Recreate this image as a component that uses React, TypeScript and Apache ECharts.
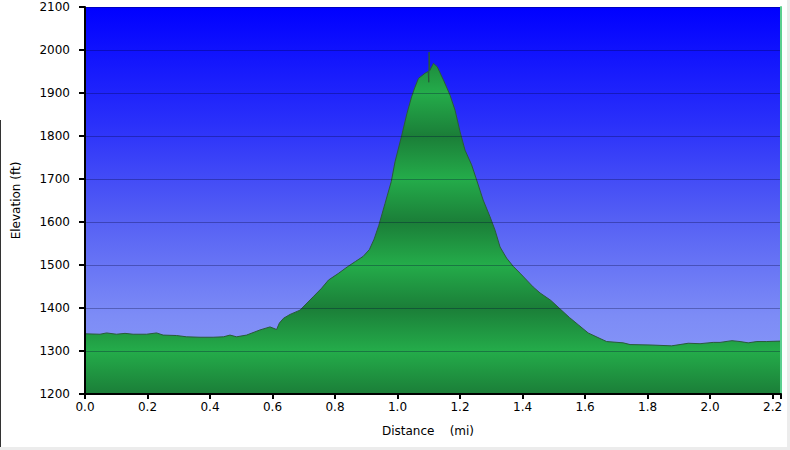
import React, { useEffect, useRef } from "react";
import * as echarts from "echarts";

const distances = [
  0, 0.048, 0.069, 0.101, 0.128, 0.154, 0.197, 0.229, 0.25, 0.293, 0.325, 0.368,
  0.41, 0.443, 0.464, 0.485, 0.517, 0.56, 0.592, 0.613, 0.622, 0.635, 0.656, 0.688,
  0.704, 0.73, 0.757, 0.779, 0.81, 0.84, 0.865, 0.89, 0.91, 0.925, 0.94, 0.96, 0.98,
  0.992, 1.013, 1.03, 1.045, 1.055, 1.067, 1.088, 1.098, 1.1, 1.101, 1.103, 1.115,
  1.127, 1.147, 1.168, 1.184, 1.2, 1.216, 1.237, 1.253, 1.274, 1.296, 1.312, 1.328,
  1.349, 1.37, 1.392, 1.434, 1.456, 1.49, 1.52, 1.55, 1.58, 1.61, 1.648, 1.669,
  1.722, 1.744, 1.808, 1.877, 1.904, 1.93, 1.968, 2.01, 2.032, 2.07, 2.096, 2.122,
  2.15, 2.18, 2.224,
];

const elevations = [
  1340, 1339, 1342, 1339, 1341, 1339, 1339, 1342, 1337, 1336, 1333, 1332,
  1332, 1333, 1337, 1333, 1337, 1349, 1356, 1350, 1365, 1376, 1385, 1395,
  1407, 1426, 1446, 1465, 1480, 1496, 1508, 1520, 1536, 1560, 1592, 1643, 1694,
  1740, 1800, 1852, 1891, 1912, 1934, 1946, 1950, 1925, 1995, 1952, 1969,
  1961, 1930, 1895, 1860, 1810, 1767, 1733, 1698, 1651, 1612, 1581, 1542,
  1516, 1497, 1481, 1449, 1435, 1418, 1398, 1378, 1360, 1342, 1329, 1322,
  1319, 1315, 1314, 1312, 1315, 1318, 1317, 1320, 1320, 1324, 1322, 1319,
  1322, 1322, 1323,
];

const yMin = 1200;
const yMax = 2100;
const yStep = 100;
const xMin = 0;
const xMax = 2.227;
const xStep = 0.2;

const FONT = "DejaVu Sans";
const GREEN_LIGHT = "#24ac4a";
const GREEN_DARK = "#1b7e38";

export default function App() {
  const ref = useRef<HTMLDivElement>(null);

  useEffect(() => {
    if (!ref.current) return;
    const chart = echarts.init(ref.current, null, { renderer: "svg" });
    const data = distances.map((d, i) => [d, elevations[i]]);

    const option: any = {
      animation: false,
      backgroundColor: "#ffffff",
      grid: {
        left: 85,
        right: 9,
        top: 7,
        bottom: 56,
        show: true,
        borderWidth: 0,
        backgroundColor: new echarts.graphic.LinearGradient(0, 0, 0, 1, [
          { offset: 0, color: "#0000ff" },
          { offset: 0.3, color: "#2a30fa" },
          { offset: 0.55, color: "#5560f4" },
          { offset: 0.8, color: "#7d8cf6" },
          { offset: 1, color: "#8c9cf8" },
        ]),
      },
      xAxis: {
        type: "value",
        min: xMin,
        max: xMax,
        interval: xStep,
        name: "Distance    (mi)",
        nameLocation: "middle",
        nameGap: 31,
        nameTextStyle: { fontFamily: FONT, fontSize: 12, color: "#000", padding: [0, 10, 0, 0] },
        axisLine: { show: true, lineStyle: { color: "#000", width: 2 } },
        axisTick: { show: true, length: 5, lineStyle: { color: "#000", width: 2 } },
        axisLabel: {
          fontFamily: FONT,
          fontSize: 12,
          color: "#000",
          margin: 7,
          formatter: (v: number) =>
            Math.abs(v / xStep - Math.round(v / xStep)) < 1e-6 ? v.toFixed(1) : "",
        },
        splitLine: { show: false },
        z: 3,
      },
      yAxis: [
        {
          type: "value",
          min: yMin,
          max: yMax,
          interval: yStep,
          name: "Elevation (ft)",
          nameLocation: "middle",
          nameGap: 63,
          nameTextStyle: { fontFamily: FONT, fontSize: 12, color: "#000" },
          axisLine: { show: true, lineStyle: { color: "#000", width: 2 } },
          axisTick: { show: true, length: 6, lineStyle: { color: "#000", width: 2 } },
          axisLabel: {
            fontFamily: FONT,
            fontSize: 12,
            color: "#000",
            margin: 15,
            formatter: (v: number) => String(Math.round(v)),
          },
          splitLine: { show: true, lineStyle: { color: "rgba(0,0,50,0.3)", width: 1 } },
          z: 3,
        },
        {
          type: "value",
          min: yMin,
          max: yMax,
          interval: yStep,
          position: "right",
          axisLine: { show: true, lineStyle: { color: "#5ccf8f", width: 2 } },
          axisTick: { show: false },
          axisLabel: { show: false },
          splitLine: { show: false },
          z: 3,
        },
      ],
      series: [
        {
          type: "line",
          data,
          symbol: "none",
          showSymbol: false,
          lineStyle: { color: "#2a5a3a", width: 1 },
          areaStyle: { color: GREEN_LIGHT, opacity: 1 },
          z: 2,
        },
      ],
      graphic: [
        { type: "line", shape: { x1: 0.5, y1: 120, x2: 0.5, y2: 450 }, style: { stroke: "#333", lineWidth: 1 } },
        { type: "rect", shape: { x: 787, y: 0, width: 3, height: 450 }, style: { fill: "#ececec" } },
        { type: "rect", shape: { x: 0, y: 447, width: 790, height: 3 }, style: { fill: "#ececec" } },
      ],
    };

    chart.setOption(option);

    const yTop = chart.convertToPixel({ yAxisIndex: 0 }, yMax) as number;
    const yBot = chart.convertToPixel({ yAxisIndex: 0 }, yMin) as number;
    const bands = Math.round((yMax - yMin) / yStep);
    const stops = [];
    for (let i = 0; i <= bands; i++) {
      const v = yMax - i * yStep;
      const odd = Math.round(v / yStep) % 2 === 1;
      stops.push({ offset: i / bands, color: odd ? GREEN_LIGHT : GREEN_DARK });
    }
    chart.setOption({
      series: [
        {
          areaStyle: {
            color: new echarts.graphic.LinearGradient(0, yTop, 0, yBot, stops, true),
            opacity: 1,
          },
        },
      ],
    });

    return () => chart.dispose();
  }, []);

  return (
    <div
      ref={ref}
      style={{ position: "fixed", left: 0, top: 0, width: 790, height: 450, background: "#fff" }}
    />
  );
}
